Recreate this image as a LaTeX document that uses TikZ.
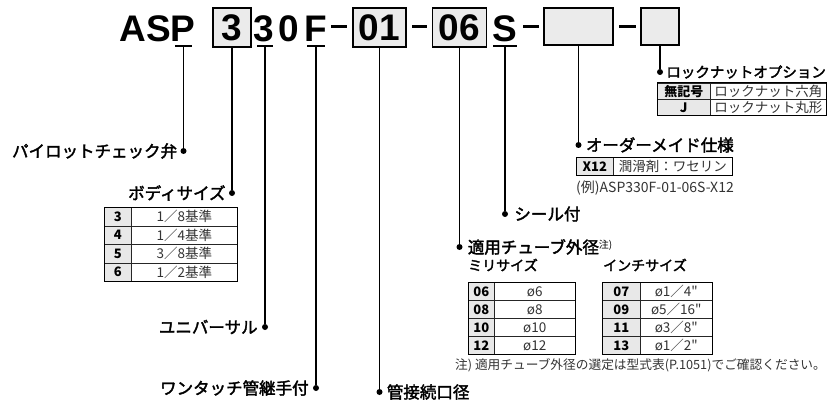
\documentclass[tikz,border=0pt]{standalone}
\usepackage{fontspec}
\setmainfont{Noto Sans CJK JP}[Ligatures=TeXOff]
\newfontfamily\codefont{Liberation Sans}
\newfontfamily\labelfont{Noto Sans CJK JP}[FakeBold=2.2]
\usetikzlibrary{positioning}

\tikzset{
  code/.style={font=\codefont\bfseries\fontsize{37}{37}\selectfont, inner sep=0pt},
  slot/.style={code, draw, line width=1.3pt, fill=gray!16, minimum height=39pt},
  codedash/.style={line width=3pt},
  uline/.style={line width=1.4pt},
  lead/.style={line width=1.3pt},
  pin/.style={circle, fill, inner sep=0pt, minimum size=6pt},
  lbl/.style={font=\labelfont\fontsize{16.5}{16.5}\selectfont, inner sep=0pt},
  sublbl/.style={font=\labelfont\fontsize{14}{14}\selectfont, inner sep=0pt, anchor=west},
  keycell/.style={draw=black!85, line width=0.6pt, fill=gray!18, inner sep=0pt,
    anchor=north west, font=\bfseries\fontsize{13}{13}\selectfont},
  valcell/.style={draw=black!85, line width=0.6pt, fill=white, inner sep=0pt,
    anchor=north west, text=black!80, font=\fontsize{13.5}{13.5}\selectfont},
  frame/.style={line width=1pt},
  note/.style={inner sep=0pt, anchor=west, text=black!80},
}

\begin{document}
\begin{tikzpicture}[x=1pt, y=-1pt]
    \useasboundingbox (0,0) rectangle (827,401);
    % model code
    \node[code, anchor=base] (asp) at (157.5,42) {ASP};
    \node[slot, minimum width=38pt] (s1) at (232,27.5) {3};
    \node[code, anchor=base] (c2) at (264,42) {3};
    \node[code, anchor=base] (c3) at (289,42) {0};
    \node[code, anchor=base] (c4) at (316,42) {F};
    \node[slot, minimum width=53pt] (s2) at (379.5,27.5) {01};
    \node[slot, minimum width=54pt] (s3) at (459.5,27.5) {06};
    \node[code, anchor=base] (c5) at (505,42) {S};
    \node[slot, minimum width=69pt, minimum height=37pt] (s4) at (578.5,26.5) {};
    \node[slot, minimum width=38pt, minimum height=37pt] (s5) at (660,26.5) {};
    \draw[codedash] (331,27) -- (347,27);
    \draw[codedash] (412,27) -- (427,27);
    \draw[codedash] (523,27) -- (539,27);
    \draw[codedash] (619,27) -- (636,27);
    \coordinate (u1) at (183.5,46);
    \coordinate (u2) at (265,46);
    \coordinate (u3) at (316,46);
    \coordinate (u4) at (505,46);
    \draw[uline] ([xshift=-8.5pt]u1) -- ([xshift=8.5pt]u1);
    \draw[uline] ([xshift=-8pt]u2) -- ([xshift=8pt]u2);
    \draw[uline] ([xshift=-9pt]u3) -- ([xshift=9pt]u3);
    \draw[uline] ([xshift=-12pt]u4) -- ([xshift=12pt]u4);
    % pins
    \node[pin] (p1) at (183.5,151) {};
    \node[pin] (p2) at (232,193) {};
    \node[pin] (p3) at (265,327) {};
    \node[pin] (p4) at (316,388) {};
    \node[pin] (p5) at (379.5,392) {};
    \node[pin] (p6) at (459.5,247) {};
    \node[pin] (p7) at (505,214) {};
    \node[pin] (p8) at (578.5,145) {};
    \node[pin] (p9) at (660,72) {};
    \draw[lead] (u1) -- (p1);
    \draw[lead] (s1.south) -- (p2);
    \draw[lead] (u2) -- (p3);
    \draw[lead] (u3) -- (p4);
    \draw[lead] (s2.south) -- (p5);
    \draw[lead] (s3.south) -- (p6);
    \draw[lead] (u4) -- (p7);
    \draw[lead] (s4.south) -- (p8);
    \draw[lead] (s5.south) -- (p9);
    % labels
    \node[lbl, left=3pt of p1] (l1) {パイロットチェック弁};
    \node[lbl, left=3pt of p2] (l2) {ボディサイズ};
    \node[lbl, left=4pt of p3] (l3) {ユニバーサル};
    \node[lbl, left=4pt of p4] (l4) {ワンタッチ管継手付};
    \node[lbl, right=4pt of p5] (l5) {管接続口径};
    \node[lbl, right=5pt of p6] (l6) {適用チューブ外径\raisebox{5pt}{\normalfont\fontsize{10}{10}\selectfont 注)}};
    \node[lbl, right=6pt of p7] (l7) {シール付};
    \node[lbl, right=4pt of p8] (l8) {オーダーメイド仕様};
    \node[lbl, right=3pt of p9, font=\labelfont\fontsize{14.5}{14.5}\selectfont] (l9) {ロックナットオプション};
    % body size table
    \foreach \k/\v [count=\i from 0] in {3/1／8基準, 4/1／4基準, 5/3／8基準, 6/1／2基準} {
        \node[keycell, minimum width=27pt, minimum height=18.5pt] (b\k k) at (104,{207+18.5*\i}) {\k};
        \node[valcell, minimum width=106pt, minimum height=18.5pt] (b\k v) at (131,{207+18.5*\i}) {\v};
    }
    \draw[frame] (b3k.north west) rectangle (b6v.south east);
    % lock nut table
    \node[keycell, minimum width=53pt, minimum height=16pt] (n1k) at (657,83) {無記号};
    \node[valcell, minimum width=116pt, minimum height=16pt] (n1v) at (710,83) {ロックナット六角};
    \node[keycell, minimum width=53pt, minimum height=16pt] (n2k) at (657,99) {J};
    \node[valcell, minimum width=116pt, minimum height=16pt] (n2v) at (710,99) {ロックナット丸形};
    \draw[frame] (n1k.north west) rectangle (n2v.south east);
    % made to order
    \node[keycell, minimum width=37pt, minimum height=18pt] (x1k) at (576,157) {X12};
    \node[valcell, minimum width=119pt, minimum height=18pt] (x1v) at (613,157) {潤滑剤：ワセリン};
    \draw[frame] (x1k.north west) rectangle (x1v.south east);
    \node[note, font=\fontsize{14}{14}\selectfont] (ex) at (576,188) {(例)ASP330F-01-06S-X12};
    % tube tables
    \node[sublbl] (mm) at (468,265) {ミリサイズ};
    \node[sublbl] (inch) at (603,265) {インチサイズ};
    \foreach \k/\v [count=\i from 0] in {06/ø6, 08/ø8, 10/ø10, 12/ø12} {
        \node[keycell, minimum width=26pt, minimum height=18pt] (m\k k) at (468,{282+18*\i}) {\k};
        \node[valcell, minimum width=81pt, minimum height=18pt] (m\k v) at (494,{282+18*\i}) {\v};
    }
    \draw[frame] (m06k.north west) rectangle (m12v.south east);
    \foreach \k/\v [count=\i from 0] in {07/ø1／4", 09/ø5／16", 11/ø3／8", 13/ø1／2"} {
        \node[keycell, minimum width=38pt, minimum height=18pt] (i\k k) at (602,{282+18*\i}) {\k};
        \node[valcell, minimum width=72pt, minimum height=18pt] (i\k v) at (640,{282+18*\i}) {\v};
    }
    \draw[frame] (i07k.north west) rectangle (i13v.south east);
    \node[note, font=\fontsize{12.7}{12.7}\selectfont] (fn) at (455,365) {注) 適用チューブ外径の選定は型式表(P.1051)でご確認ください。};
\end{tikzpicture}
\end{document}
